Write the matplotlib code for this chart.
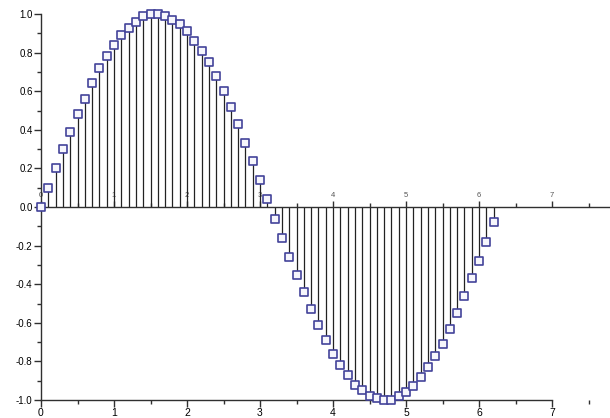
import matplotlib
matplotlib.use("Agg")
import matplotlib.pyplot as plt
from matplotlib.markers import MarkerStyle
from matplotlib.ticker import MultipleLocator

# sample positions and sampled signal values
x_vals = [0.0, 0.1, 0.2, 0.3, 0.4, 0.5, 0.6, 0.7, 0.8, 0.9,
          1.0, 1.1, 1.2, 1.3, 1.4, 1.5, 1.6, 1.7, 1.8, 1.9,
          2.0, 2.1, 2.2, 2.3, 2.4, 2.5, 2.6, 2.7, 2.8, 2.9,
          3.0, 3.1, 3.2, 3.3, 3.4, 3.5, 3.6, 3.7, 3.8, 3.9,
          4.0, 4.1, 4.2, 4.3, 4.4, 4.5, 4.6, 4.7, 4.8, 4.9,
          5.0, 5.1, 5.2, 5.3, 5.4, 5.5, 5.6, 5.7, 5.8, 5.9,
          6.0, 6.1, 6.2]
y_vals = [0.00, 0.10, 0.20, 0.30, 0.39, 0.48, 0.56, 0.64, 0.72, 0.78,
          0.84, 0.89, 0.93, 0.96, 0.99, 1.00, 1.00, 0.99, 0.97, 0.95,
          0.91, 0.86, 0.81, 0.75, 0.68, 0.60, 0.52, 0.43, 0.33, 0.24,
          0.14, 0.04, -0.06, -0.16, -0.26, -0.35, -0.44, -0.53, -0.61, -0.69,
          -0.76, -0.82, -0.87, -0.92, -0.95, -0.98, -0.99, -1.00, -1.00, -0.98,
          -0.96, -0.93, -0.88, -0.83, -0.77, -0.71, -0.63, -0.55, -0.46, -0.37,
          -0.28, -0.18, -0.08]

x_ticks = [0, 1, 2, 3, 4, 5, 6, 7]
y_ticks = [-1.0, -0.8, -0.6, -0.4, -0.2, 0.0, 0.2, 0.4, 0.6, 0.8, 1.0]

plt.rcParams["font.family"] = ["Liberation Sans", "DejaVu Sans"]

fig = plt.figure(figsize=(6.1, 4.18), dpi=100)
ax = fig.add_axes([41 / 610, 18 / 418, 569 / 610, 386 / 418])
ax.set_xlim(0, 569 / 73)
ax.set_ylim(-1.0, 1.0)

# stems
ax.vlines(x_vals, 0, y_vals, color="#222222", linewidth=0.9, zorder=2)

# rounded square markers
marker = MarkerStyle("s", joinstyle="round")
ax.plot(x_vals, y_vals, linestyle="none", marker=marker, markersize=5.6,
        markerfacecolor="#f6f6fc", markeredgecolor="#43439a",
        markeredgewidth=1.2, zorder=3, clip_on=False)

axis_color = "#303030"
for side in ["left", "bottom", "top"]:
    ax.spines[side].set_color(axis_color)
    ax.spines[side].set_linewidth(1.0)
ax.spines["right"].set_visible(False)
ax.spines["bottom"].set_bounds(0, 7)
# middle axis through y = 0
ax.spines["top"].set_position(("data", 0))
ax.set_zorder(1)

ax.set_xticks(x_ticks)
ax.set_xticklabels([str(t) for t in x_ticks])
ax.xaxis.set_minor_locator(MultipleLocator(0.5))
ax.set_yticks(y_ticks)
ax.set_yticklabels([f"{t:.1f}" for t in y_ticks])
ax.yaxis.set_minor_locator(MultipleLocator(0.1))

ax.tick_params(axis="x", which="both", top=True, labeltop=True, bottom=True,
               direction="out", color=axis_color, width=1.0)
ax.tick_params(axis="x", which="major", length=5, pad=1)
ax.tick_params(axis="x", which="minor", length=3)
ax.tick_params(axis="y", which="major", length=5, pad=1, labelsize=7,
               color=axis_color, width=1.0)
ax.tick_params(axis="y", which="minor", length=3, color=axis_color, width=1.0)

for tick in ax.xaxis.get_major_ticks():
    tick.label1.set_fontsize(7.5)
    tick.label2.set_fontsize(5.5)
    tick.label2.set_color("#555555")
    tick.tick2line.set_markersize(4)

fig.savefig("out.png", dpi=100, facecolor="white")
plt.close(fig)
